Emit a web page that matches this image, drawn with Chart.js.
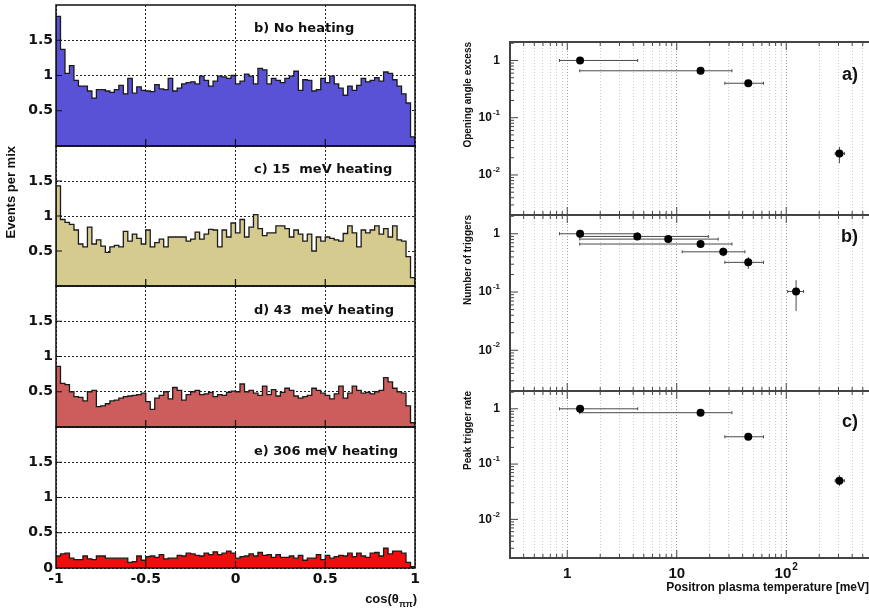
<!DOCTYPE html>
<html>
<head>
<meta charset="utf-8">
<title>Opening angle distributions and temperature dependence</title>
<script src="https://cdn.jsdelivr.net/npm/chart.js@4.4.1/dist/chart.umd.min.js"></script>
<style>
html,body{margin:0;padding:0;background:#fff}
#wrap{position:relative;width:869px;height:613px;overflow:hidden}
#wrap canvas{position:absolute;left:0;top:0}
</style>
</head>
<body>
<div id="wrap">
<canvas id="histB" width="869" height="613"></canvas>
<canvas id="histC" width="869" height="613"></canvas>
<canvas id="histD" width="869" height="613"></canvas>
<canvas id="histE" width="869" height="613"></canvas>
<canvas id="tempA" width="869" height="613"></canvas>
<canvas id="tempB" width="869" height="613"></canvas>
<canvas id="tempC" width="869" height="613"></canvas>
</div>
<script>
const SANS="'Liberation Sans', Arial, sans-serif";
const WIDE="'DejaVu Sans', sans-serif";
Chart.defaults.font.family=SANS;
Chart.defaults.color="#111";
const W=869,H=613;

// cos(theta) histograms, 80 bins on [-1,1], events per mix
const cosMin=-1,cosMax=1,nBins=80;
const noHeating=[1.84,1.37,1.03,1.14,0.93,0.85,0.85,0.78,0.68,0.80,
 0.80,0.78,0.76,0.80,0.86,0.74,0.96,0.75,0.84,0.79,
 0.78,0.77,0.87,0.81,0.80,0.96,0.78,0.82,0.88,0.90,
 0.91,0.88,0.99,0.93,0.85,0.92,0.99,0.98,0.96,1.00,
 0.88,0.92,1.02,0.99,0.88,1.10,1.08,0.88,0.96,0.93,
 0.90,0.96,0.99,1.06,0.79,0.94,0.93,0.78,0.80,0.96,
 0.90,0.99,0.88,0.82,0.72,0.85,0.79,0.86,0.96,0.91,
 0.93,0.97,0.92,1.05,1.03,0.94,0.85,0.74,0.61,0.13];
const heat15=[1.43,0.95,0.91,0.88,0.80,0.60,0.56,0.84,0.60,0.66,
 0.57,0.48,0.56,0.58,0.56,0.78,0.64,0.74,0.68,0.60,
 0.80,0.56,0.62,0.67,0.56,0.70,0.70,0.70,0.70,0.64,
 0.67,0.77,0.67,0.74,0.81,0.80,0.56,0.80,0.70,0.90,
 0.76,0.95,0.70,0.84,1.02,0.82,0.72,0.76,0.76,0.86,
 0.86,0.82,0.70,0.80,0.74,0.64,0.74,0.50,0.70,0.64,
 0.70,0.68,0.66,0.64,0.75,0.86,0.76,0.56,0.80,0.76,
 0.80,0.86,0.74,0.82,0.70,0.86,0.66,0.64,0.42,0.12];
const heat43=[0.86,0.62,0.60,0.50,0.43,0.42,0.37,0.50,0.52,0.29,
 0.30,0.33,0.37,0.38,0.41,0.43,0.44,0.45,0.46,0.48,
 0.36,0.25,0.41,0.45,0.50,0.40,0.56,0.52,0.38,0.46,
 0.50,0.52,0.46,0.47,0.49,0.43,0.46,0.45,0.49,0.51,
 0.50,0.61,0.50,0.52,0.48,0.45,0.58,0.46,0.53,0.44,
 0.49,0.55,0.52,0.44,0.41,0.43,0.45,0.55,0.52,0.48,
 0.45,0.40,0.47,0.58,0.41,0.48,0.58,0.52,0.48,0.49,
 0.47,0.50,0.52,0.70,0.64,0.55,0.50,0.48,0.30,0.06];
const heat306=[0.17,0.20,0.21,0.14,0.12,0.12,0.17,0.13,0.12,0.17,
 0.17,0.14,0.14,0.14,0.14,0.14,0.08,0.09,0.17,0.11,
 0.16,0.17,0.15,0.19,0.13,0.14,0.14,0.18,0.17,0.21,
 0.20,0.18,0.17,0.21,0.19,0.23,0.19,0.21,0.24,0.21,
 0.14,0.16,0.17,0.20,0.17,0.22,0.18,0.19,0.15,0.19,
 0.15,0.15,0.17,0.14,0.18,0.11,0.14,0.14,0.19,0.12,
 0.18,0.14,0.16,0.18,0.17,0.21,0.16,0.21,0.17,0.15,
 0.21,0.22,0.17,0.28,0.20,0.24,0.24,0.21,0.08,0.02];
const cosTicks=[-1,-0.5,0,0.5,1];
const evTicks=[0,0.5,1,1.5];

// temperature scans (meV), x error = temperature range
const tempA=[1.31,16.5,45,306];
const tempALo=[0.85,1.3,27.5,280];
const tempAHi=[4.4,31.9,62,340];
const excess=[1.0,0.66,0.40,0.0236];
const excessLo=[0.95,0.62,0.37,0.016];
const excessHi=[1.05,0.70,0.43,0.031];

const tempB=[1.31,4.36,8.36,16.5,26.6,45,123];
const tempBLo=[0.85,1.3,1.3,1.3,11.2,27.5,103];
const tempBHi=[4.4,19.4,23.9,31.9,41.9,62,144];
const triggers=[1.0,0.90,0.81,0.667,0.49,0.323,0.102];
const triggersLo=[0.94,0.82,0.72,0.58,0.41,0.25,0.047];
const triggersHi=[1.06,0.98,0.90,0.76,0.58,0.40,0.16];

const tempC=[1.31,16.5,45,306];
const tempCLo=[0.85,1.3,27.5,280];
const tempCHi=[4.4,31.9,62,340];
const peakRate=[1.0,0.85,0.312,0.05];
const peakRateLo=[0.95,0.81,0.29,0.04];
const peakRateHi=[1.05,0.89,0.335,0.063];

// decade labels: mantissa text + exponent text
const tempTicks=[1,10,100],tempTickBase=["1","10","10"],tempTickExp=["","","2"];
const rateTicks=[1,0.1,0.01],rateTickBase=["1","10","10"],rateTickExp=["","-1","-2"];

// helpers
function fixBox(w,h){return s=>{if(w!=null)s.width=w;if(h!=null)s.height=h;s.paddingLeft=s.paddingRight=s.paddingTop=s.paddingBottom=0;};}
function logTicks(lo,hi){
  const out=[];
  for(let e=Math.floor(Math.log10(lo));e<=Math.ceil(Math.log10(hi));e++)
    for(let s=1;s<10;s++){const v=parseFloat((s*Math.pow(10,e)).toPrecision(6));if(v>=lo&&v<=hi)out.push(v);}
  return out;
}
const isDecade=v=>Math.abs(Math.log10(v)-Math.round(Math.log10(v)))<1e-6;

// ---- left column
function leftFrame(label,labelY,withAxisTitle){
  return {
    id:"leftFrame",
    afterDatasetsDraw(chart){
      const {ctx,chartArea:a,scales:{x,y}}=chart;
      ctx.save();
      ctx.strokeStyle="#111";ctx.lineWidth=1.5;
      ctx.strokeRect(a.left,a.top,a.width,a.height);
      ctx.lineWidth=1.2;ctx.beginPath();
      [-0.5,0,0.5].forEach(v=>{const px=x.getPixelForValue(v);ctx.moveTo(px,a.bottom);ctx.lineTo(px,a.bottom-7);});
      [0.5,1,1.5].forEach(v=>{const py=y.getPixelForValue(v);ctx.moveTo(a.left,py);ctx.lineTo(a.left+6,py);});
      ctx.stroke();
      ctx.fillStyle="#111";ctx.font="bold 13px "+WIDE;ctx.textBaseline="middle";ctx.textAlign="left";
      ctx.fillText(label,254,labelY);
      if(withAxisTitle){
        // cos(theta_pipi) with subscript
        ctx.textBaseline="alphabetic";
        const big="bold 13px "+SANS,small="bold 9px "+SANS;
        ctx.font=big;const w1=ctx.measureText("cos(\u03b8").width,w3=ctx.measureText(")").width;
        ctx.font=small;const w2=ctx.measureText("\u03c0\u03c0").width;
        let x0=417-(w1+w2+w3);
        ctx.font=big;ctx.fillText("cos(\u03b8",x0,603);
        ctx.font=small;ctx.fillText("\u03c0\u03c0",x0+w1,607);
        ctx.font=big;ctx.fillText(")",x0+w1+w2,603);
      }
      ctx.restore();
    }
  };
}

function histPanel(id,vals,color,top,bottom,label,labelY,opt){
  const last=opt.last||false;
  const xh=last?45:0;
  const w=(cosMax-cosMin)/nBins;
  const pts=[{x:cosMin,y:0}];
  vals.forEach((v,i)=>pts.push({x:cosMin+i*w,y:v}));
  pts.push({x:cosMax,y:vals[vals.length-1]},{x:cosMax,y:0});
  new Chart(document.getElementById(id),{
    type:"line",
    data:{datasets:[{data:pts,stepped:true,fill:"origin",backgroundColor:color,borderColor:"#1b1b1b",borderWidth:1.3,pointRadius:0}]},
    options:{
      responsive:false,animation:false,events:[],
      layout:{autoPadding:false,padding:{left:0,top:top,right:W-415,bottom:H-bottom-xh}},
      plugins:{legend:{display:false},tooltip:{enabled:false}},
      scales:{
        x:{type:"linear",min:cosMin,max:cosMax,afterFit:fixBox(null,xh),
          afterBuildTicks:s=>{s.ticks=cosTicks.map(v=>({value:v}));},
          ticks:{display:last,autoSkip:false,maxRotation:0,padding:3,color:"#111",font:{family:WIDE,weight:"bold",size:14},callback:v=>String(v)},
          grid:{color:"#222",lineWidth:1,drawTicks:false},
          border:{display:false,dash:[2,2]}},
        y:{min:0,max:2,afterFit:fixBox(56,null),
          afterBuildTicks:s=>{s.ticks=evTicks.map(v=>({value:v}));},
          ticks:{padding:3,color:"#111",font:{family:WIDE,weight:"bold",size:14},callback:v=>(v===0&&!last)?"":String(v)},
          grid:{color:"#222",lineWidth:1,drawTicks:false},
          border:{display:false,dash:[2,2]},
          title:{display:!!opt.yTitle,text:opt.yTitle||"",align:"end",color:"#111",font:{family:SANS,weight:"bold",size:13},padding:{top:4,bottom:0}}}
      }
    },
    plugins:[leftFrame(label,labelY,last)]
  });
}

histPanel("histB",noHeating,"#5a52d6",5,146,"b) No heating",29,{});
histPanel("histC",heat15,"#d5cb8e",146,286,"c) 15  meV heating",170,{yTitle:"Events per mix"});
histPanel("histD",heat43,"#cd5c5c",286,427,"d) 43  meV heating",311,{});
histPanel("histE",heat306,"#f20c0c",427,568,"e) 306 meV heating",452,{last:true});

// ---- right column
const errorBars={
  id:"errorBars",
  beforeDatasetsDraw(chart){
    const {ctx,scales:{x,y}}=chart;
    ctx.save();ctx.strokeStyle="#4a4a4a";ctx.lineWidth=1;
    chart.data.datasets.forEach(ds=>{
      ds.data.forEach((p,i)=>{
        const px=x.getPixelForValue(p.x),py=y.getPixelForValue(p.y);
        const x0=x.getPixelForValue(ds.xLo[i]),x1=x.getPixelForValue(ds.xHi[i]);
        ctx.beginPath();
        ctx.moveTo(x0,py);ctx.lineTo(x1,py);
        ctx.moveTo(x0,py-1.5);ctx.lineTo(x0,py+1.5);
        ctx.moveTo(x1,py-1.5);ctx.lineTo(x1,py+1.5);
        ctx.moveTo(px,y.getPixelForValue(ds.yLo[i]));ctx.lineTo(px,y.getPixelForValue(ds.yHi[i]));
        ctx.stroke();
      });
    });
    ctx.restore();
  }
};

// "10" with a raised exponent
function powerText(ctx,base,exp,x,y,size,align){
  const bf="bold "+size+"px "+SANS,ef="bold "+Math.round(size*0.68)+"px "+SANS;
  ctx.font=bf;const bw=ctx.measureText(base).width;
  ctx.font=ef;const ew=exp?ctx.measureText(exp).width+1:0;
  const x0=align==="right"?x-bw-ew:x-(bw+ew)/2;
  ctx.textAlign="left";ctx.textBaseline="middle";
  ctx.font=bf;ctx.fillText(base,x0,y);
  if(exp){ctx.font=ef;ctx.fillText(exp,x0+bw+1,y-size*0.42);}
}

function rightFrame(tag,tagY,showX){
  return {
    id:"rightFrame",
    afterDatasetsDraw(chart){
      const {ctx,chartArea:a,scales:{x,y}}=chart;
      ctx.save();
      ctx.strokeStyle="#444";ctx.lineWidth=2;
      ctx.beginPath();
      ctx.moveTo(a.right,a.top);ctx.lineTo(a.left,a.top);ctx.lineTo(a.left,a.bottom);ctx.lineTo(a.right,a.bottom);
      ctx.stroke();
      ctx.lineWidth=1;ctx.beginPath();
      x.ticks.forEach(t=>{const px=x.getPixelForValue(t.value),l=isDecade(t.value)?8:4;
        ctx.moveTo(px,a.bottom);ctx.lineTo(px,a.bottom-l);ctx.moveTo(px,a.top);ctx.lineTo(px,a.top+l);});
      y.ticks.forEach(t=>{const py=y.getPixelForValue(t.value),l=isDecade(t.value)?8:4;
        ctx.moveTo(a.left,py);ctx.lineTo(a.left+l,py);});
      ctx.stroke();
      ctx.fillStyle="#111";
      rateTicks.forEach((v,i)=>powerText(ctx,rateTickBase[i],rateTickExp[i],a.left-10,y.getPixelForValue(v),12,"right"));
      if(showX)tempTicks.forEach((v,i)=>powerText(ctx,tempTickBase[i],tempTickExp[i],x.getPixelForValue(v),a.bottom+16,15,"center"));
      ctx.font="bold 18px "+SANS;ctx.textAlign="right";ctx.textBaseline="middle";
      ctx.fillText(tag,858,tagY);
      ctx.restore();
    }
  };
}

function tempPanel(id,xs,xLo,xHi,ys,yLo,yHi,top,bottom,yTitle,tag,tagY,showX){
  const xh=showX?39:0;
  new Chart(document.getElementById(id),{
    type:"scatter",
    data:{datasets:[{data:xs.map((t,i)=>({x:t,y:ys[i]})),xLo:xLo,xHi:xHi,yLo:yLo,yHi:yHi,
      pointRadius:4,pointBackgroundColor:"#000",pointBorderWidth:0}]},
    options:{
      responsive:false,animation:false,events:[],
      layout:{autoPadding:false,padding:{left:440,top:top,right:0,bottom:H-bottom-xh}},
      plugins:{legend:{display:false},tooltip:{enabled:false}},
      scales:{
        x:{type:"logarithmic",min:0.3,max:570,afterFit:fixBox(null,xh),
          afterBuildTicks:s=>{s.ticks=logTicks(0.3,570).map(v=>({value:v}));},
          ticks:{display:false},
          grid:{color:c=>isDecade(c.tick.value)?"#9c9c9c":"#cdcdcd",lineWidth:1,drawTicks:false},
          border:{display:false,dash:[1,2]},
          title:{display:showX,text:"Positron plasma temperature [meV]",align:"end",color:"#111",font:{family:SANS,weight:"bold",size:12},padding:{top:0,bottom:2}}},
        y:{type:"logarithmic",min:0.002,max:2.1,afterFit:fixBox(70,null),
          afterBuildTicks:s=>{s.ticks=logTicks(0.002,2.1).map(v=>({value:v}));},
          ticks:{display:false},
          grid:{display:false,drawTicks:false},
          border:{display:false},
          title:{display:true,text:yTitle,align:"end",color:"#111",font:{family:SANS,weight:"bold",size:10},padding:{top:22,bottom:0}}}
      }
    },
    plugins:[errorBars,rightFrame(tag,tagY,showX)]
  });
}

tempPanel("tempA",tempA,tempALo,tempAHi,excess,excessLo,excessHi,42,215,"Opening angle excess","a)",75,false);
tempPanel("tempB",tempB,tempBLo,tempBHi,triggers,triggersLo,triggersHi,215,391,"Number of triggers","b)",237,false);
tempPanel("tempC",tempC,tempCLo,tempCHi,peakRate,peakRateLo,peakRateHi,391,558,"Peak trigger rate","c)",422,true);
</script>
</body>
</html>
